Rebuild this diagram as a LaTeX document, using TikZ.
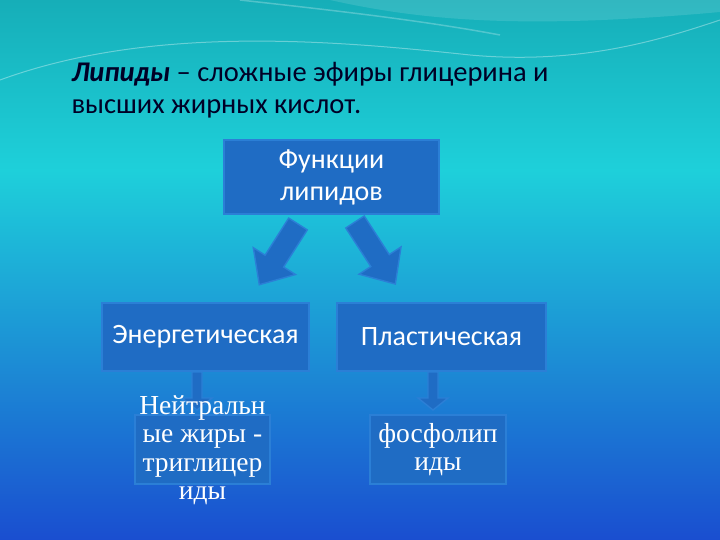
\documentclass[tikz,border=0pt]{standalone}
\usepackage{fontspec}
\setmainfont{Carlito}
\newfontfamily\serifx{Liberation Serif}
\definecolor{boxfill}{HTML}{1F6CC4}
\definecolor{boxdraw}{HTML}{2B7FD6}
\definecolor{bgtop}{HTML}{16AEB8}
\definecolor{bgcyan}{HTML}{1ED0DA}
\definecolor{bgmid}{HTML}{1C9CE2}
\definecolor{bgbot}{HTML}{1A4ED0}
\tikzset{
  fbox/.style={draw=boxdraw, line width=1.6pt, fill=boxfill, text=white, align=center, inner sep=0pt},
  arr/.style={draw=boxdraw, line width=1.4pt, fill=boxfill, line join=miter}
}
\newcommand\fatarrow[7]{% x,y,angle,L,w,H,h
  \draw[arr, shift={(#1,#2)}, rotate=#3] (0,-#5) -- (#4-#7,-#5) -- (#4-#7,-#6) -- (#4,0) -- (#4-#7,#6) -- (#4-#7,#5) -- (0,#5) -- cycle;}
\begin{document}
\begin{tikzpicture}[x=1pt,y=-1pt]
\useasboundingbox (0,0) rectangle (720,540);
\shade[top color=bgtop, bottom color=bgcyan] (0,0) rectangle (720,170.5);
\shade[top color=bgcyan, middle color=bgmid, bottom color=bgbot] (0,170) rectangle (720,540);
\draw[white, opacity=0.35, line width=1pt] (0,80) .. controls (150,25) and (330,40) .. (470,55) .. controls (580,65) and (660,40) .. (720,20);
\draw[white, opacity=0.25, line width=1.5pt] (240,0) .. controls (330,10) and (420,20) .. (500,35);
\fill[white, opacity=0.12] (330,0) .. controls (420,20) and (520,30) .. (720,12) -- (720,0) -- cycle;
\node[anchor=base west, text=black!85!blue, font=\fontsize{28.5}{32}\selectfont] (t1) at (68,82) {\textbf{\textit{Липиды}} – сложные эфиры глицерина и};
\node[anchor=base west, text=black!85!blue, font=\fontsize{28.5}{32}\selectfont] (t2) at (68,114) {высших жирных кислот.};
\node[fbox, minimum width=215pt, minimum height=74pt, font=\fontsize{28}{32}\selectfont] (f) at (331.5,177) {Функции\\липидов};
\node[fbox, minimum width=207pt, minimum height=68pt, font=\fontsize{28}{32}\selectfont] (e) at (205.5,337) {Энергетическая};
\node[fbox, minimum width=209pt, minimum height=68pt, font=\fontsize{28}{32}\selectfont] (p) at (441.5,337) {Пластическая};
\node[fbox, minimum width=135pt, minimum height=69pt] (n) at (202.5,449.5) {};
\node[fbox, minimum width=136pt, minimum height=69pt, font=\serifx\fontsize{27.5}{28.5}\selectfont] (fo) at (438,449.5) {фосфолип\\иды};
\fatarrow{298}{224}{237.5}{72}{11}{25}{28}
\fatarrow{355}{222}{-57}{74}{11}{25}{28}
\fatarrow{197}{372}{-90}{38}{5}{15}{12}
\fatarrow{433}{372}{-90}{38}{5}{15}{12}
\node[text=white, align=center, font=\serifx\fontsize{27.5}{28.5}\selectfont] (nt) at (202.5,450) {Нейтральн\\ые жиры -\\триглицер\\иды};
\end{tikzpicture}
\end{document}
